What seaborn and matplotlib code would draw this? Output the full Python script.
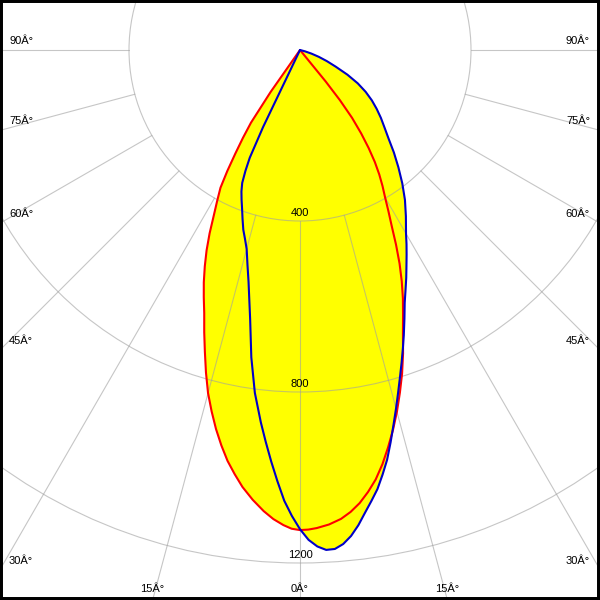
import numpy as np
import pandas as pd
import matplotlib
matplotlib.use("Agg")
import matplotlib.pyplot as plt
from matplotlib.patches import Circle
import seaborn as sns

# ── luminous intensity (cd) vs gamma angle (deg) ──
RED_R_DEG = [0, 1, 2, 3.5, 5, 6.25, 7.5, 8.75, 10, 11.25, 12.5, 13.75, 15, 16.25, 17.5, 18.75,
             20, 21.25, 22.5, 23.75, 25, 26.25, 27.5, 28.75, 30, 31.25, 32.5, 33.75, 35, 36.25,
             37.5, 38.5, 39.2, 40]
RED_R_CD  = [1123, 1122, 1119, 1112, 1101, 1087, 1069, 1046, 1020, 988, 952, 915, 876, 835, 794,
             750, 704, 665, 629, 591, 551, 508, 465, 430, 398, 372, 345, 315, 280, 242,
             200, 150, 95, 0]
RED_L_DEG = [0, 1, 2, 3.25, 4.5, 6, 7.5, 8.75, 10, 11.25, 12.5, 13.75, 15, 16.25, 17.5, 18.75,
             20, 21.25, 22.5, 23.75, 25, 26.25, 27.5, 28.75, 30, 31, 32, 33, 34, 35, 36]
RED_L_CD  = [1123, 1120, 1112, 1099, 1082, 1058, 1031, 1004, 976, 943, 908, 870, 831, 786, 740,
             697, 655, 621, 588, 553, 517, 478, 437, 403, 372, 330, 285, 245, 205, 120, 0]

BLUE_R_DEG = [0, 1, 2, 3, 4, 5, 6, 7, 8, 9, 10, 11, 12, 13, 14, 15, 16, 17, 18, 19, 20, 21.25,
              22.5, 23.75, 25, 26.25, 27.5, 28.75, 30, 32.5, 35, 37.5, 40, 42.5, 45, 47.5, 50,
              52.5, 55, 57.5, 60, 62.5, 65, 67.5, 70, 72.5, 75, 80]
BLUE_R_CD  = [1121, 1146, 1162, 1171, 1170, 1160, 1143, 1120, 1093, 1068, 1043, 1012, 980, 942,
              904, 868, 833, 800, 769, 739, 710, 674, 640, 613, 588, 563, 540, 518, 496, 461,
              428, 393, 358, 325, 293, 268, 247, 226, 205, 182, 156, 125, 92, 68, 47, 28, 12, 0]
BLUE_L_DEG = [0, 1, 2, 3, 4, 5, 6, 7.5, 9, 10.5, 11.5, 12.5, 13.75, 15, 16.25, 17.5, 18.75, 20,
              21.25, 22.5, 23.5, 24.3, 25, 25.6, 26]
BLUE_L_CD  = [1121, 1090, 1055, 1010, 965, 920, 876, 809, 728, 640, 595, 556, 517, 482, 460, 441,
              418, 396, 377, 358, 339, 310, 278, 200, 0]

GRID_CD     = [400, 800, 1200, 1600]
GRID_DEG    = [0, 15, 30, 45, 60, 75, 90]
ANGLE_TEXT  = ["0Â°", "15Â°", "30Â°", "45Â°", "60Â°", "75Â°", "90Â°"]
RING_TEXT   = ["400", "800", "1200"]

S  = 0.4275          # pixels per cd
PX = 1 / S           # cd per pixel


def to_xy(deg_l, cd_l, deg_r, cd_r):
    gl, il = np.radians(deg_l[::-1]), np.array(cd_l[::-1], float)
    gr, ir = np.radians(deg_r[1:]), np.array(cd_r[1:], float)
    x = np.concatenate([-il * np.sin(gl), ir * np.sin(gr)])
    y = np.concatenate([-il * np.cos(gl), -ir * np.cos(gr)])
    return x, y


rx, ry = to_xy(RED_L_DEG, RED_L_CD, RED_R_DEG, RED_R_CD)
bx, by = to_xy(BLUE_L_DEG, BLUE_L_CD, BLUE_R_DEG, BLUE_R_CD)
df = pd.concat([
    pd.DataFrame({"x": rx, "y": ry, "plane": "C0-C180"}),
    pd.DataFrame({"x": bx, "y": by, "plane": "C90-C270"}),
], ignore_index=True)

sns.set_style("white")
plt.rcParams["font.family"] = ["Liberation Sans", "DejaVu Sans"]
plt.rcParams["text.color"] = "black"

fig = plt.figure(figsize=(6, 6), dpi=100, facecolor="white")
ax = fig.add_axes([0, 0, 1, 1])
ax.set_xlim(-300 * PX, 300 * PX)
ax.set_ylim(-550 * PX, 50 * PX)
ax.set_aspect("equal")
ax.set_xticks([])
ax.set_yticks([])
for sp in ax.spines.values():
    sp.set_color("black")
    sp.set_linewidth(4.3)

# yellow fill (union of both planes)
ax.fill(rx, ry, color="#ffff00", lw=0, zorder=1)
ax.fill(bx, by, color="#ffff00", lw=0, zorder=1)

# grid
gcol = dict(color="#a0a0a0", alpha=0.6, lw=0.8, zorder=2)
for r in GRID_CD:
    ax.add_patch(Circle((0, 0), r, fill=False, **gcol))
for a in GRID_DEG:
    for s in ([1] if a == 0 else [-1, 1]):
        g = np.radians(a)
        ax.plot([s * 400 * np.sin(g), s * 3000 * np.sin(g)],
                [-400 * np.cos(g), -3000 * np.cos(g)], **gcol)

sns.lineplot(data=df, x="x", y="y", hue="plane", palette=["#ff0000", "#0000c8"],
             sort=False, estimator=None, legend=False, lw=1.5, ax=ax, zorder=3)
ax.set_xlabel("")
ax.set_ylabel("")

# ring labels
for r, t in zip(GRID_CD, RING_TEXT):
    ax.text(0, -r + 8 * PX, t, ha="center", va="center", fontsize=8, color="black", zorder=4)

# angle labels at the picture edge
for a, t in zip(GRID_DEG, ANGLE_TEXT):
    g = np.radians(a)
    if 550 * np.tan(g) > 300:
        y = -300 / np.tan(g) * PX if a < 90 else 0
        ax.text(-291 * PX, y + 9 * PX, t, ha="left", va="center", fontsize=8, color="black", zorder=4)
        ax.text(290 * PX, y + 9 * PX, t, ha="right", va="center", fontsize=8, color="black", zorder=4)
    else:
        x = 550 * np.tan(g) * PX
        for s in ([1] if a == 0 else [-1, 1]):
            ax.text(s * x, -539 * PX, t, ha="center", va="center", fontsize=8, color="black", zorder=4)

fig.savefig("out.png", dpi=100, facecolor="white")
